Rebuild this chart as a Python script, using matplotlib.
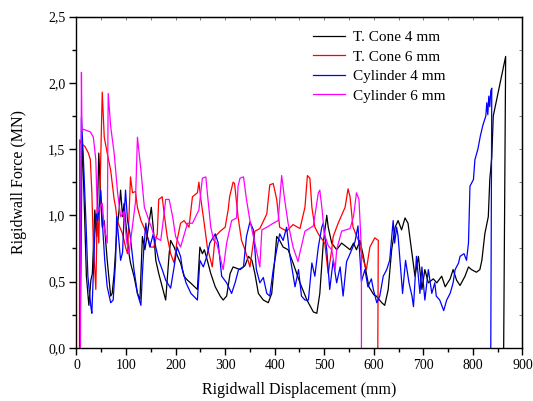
import matplotlib
matplotlib.use("Agg")
import matplotlib.pyplot as plt
from matplotlib.ticker import MultipleLocator, FuncFormatter

plt.rcParams['font.family'] = ['Liberation Serif', 'DejaVu Serif']

labels = ["T. Cone 4 mm", "T. Cone 6 mm", "Cylinder 4 mm", "Cylinder 6 mm"]
colors = ["#000000", "#ff0000", "#0000ff", "#ff00ff"]

cone4_x = [7, 10, 11, 13, 17, 20, 25, 29, 32, 37, 41, 45, 49, 52, 56, 59, 62, 66, 69, 72, 76, 81, 86, 89, 93, 96, 99,
           103, 106, 109, 116, 123, 128, 130, 133, 138, 143, 151, 155, 160, 166, 173, 180, 187, 190, 197, 204, 210,
           217, 224, 230, 244, 249, 254, 258, 264, 271, 280, 290, 296, 303, 310, 316, 330, 340, 347, 354, 360, 367,
           377, 387, 394, 400, 404, 410, 417, 427, 437, 451, 465, 478, 485, 491, 498, 505, 508, 515, 525, 535, 545,
           552, 559, 565, 572, 579, 585, 590, 600, 605, 616, 622, 629, 636, 643, 649, 656, 663, 669, 676, 683, 690,
           697, 703, 710, 720, 727, 737, 744, 754, 760, 767, 774, 784, 791, 797, 807, 814, 818, 824, 831, 834, 838,
           841, 866, 862]
cone4_y = [0.0, 1.0, 1.57, 1.42, 0.91, 0.54, 0.32, 0.51, 0.56, 1.04, 0.84, 1.47, 1.12, 0.91, 0.96, 0.80, 0.66, 0.51,
           0.39, 0.41, 0.56, 0.86, 1.04, 1.19, 0.99, 1.09, 0.96, 0.81, 0.71, 0.64, 0.54, 0.41, 0.36, 0.56, 0.84, 0.74,
           0.86, 1.06, 0.90, 0.66, 0.56, 0.46, 0.36, 0.71, 0.81, 0.76, 0.69, 0.64, 0.54, 0.51, 0.49, 0.44, 0.76, 0.71,
           0.74, 0.66, 0.56, 0.46, 0.39, 0.36, 0.39, 0.56, 0.61, 0.59, 0.62, 0.69, 0.66, 0.56, 0.41, 0.36, 0.34, 0.41,
           0.66, 0.84, 0.81, 0.76, 0.74, 0.64, 0.49, 0.36, 0.27, 0.26, 0.41, 0.79, 1.00, 0.91, 0.79, 0.74, 0.79, 0.76,
           0.74, 0.79, 0.74, 0.81, 0.69, 0.56, 0.46, 0.40, 0.39, 0.34, 0.32, 0.44, 0.74, 0.91, 0.96, 0.89, 0.98, 0.94,
           0.74, 0.54, 0.69, 0.44, 0.59, 0.49, 0.52, 0.49, 0.54, 0.46, 0.52, 0.59, 0.51, 0.47, 0.54, 0.61, 0.59, 0.57,
           0.59, 0.66, 0.86, 0.99, 1.27, 1.44, 1.75, 2.20, 0.0]

cone6_x = [6, 6.5, 10, 17, 24, 28, 31, 34, 39, 42, 45, 52, 56, 62, 69, 76, 79, 82, 93, 99, 103, 109, 113, 119, 123,
           130, 136, 143, 150, 156, 163, 166, 173, 176, 183, 190, 197, 203, 210, 217, 227, 234, 244, 247, 251, 257,
           264, 274, 280, 290, 300, 306, 309, 316, 319, 326, 333, 340, 350, 360, 370, 384, 390, 397, 404, 410, 424,
           437, 451, 461, 466, 471, 475, 481, 488, 501, 508, 515, 518, 528, 542, 548, 552, 558, 569, 579, 585, 592,
           602, 609, 608]
cone6_y = [0.0, 1.57, 1.54, 1.52, 1.47, 1.42, 1.17, 0.79, 0.44, 1.06, 0.79, 1.93, 1.59, 1.47, 1.34, 1.12, 1.06, 0.96,
           0.86, 0.76, 0.71, 1.29, 1.17, 1.18, 1.06, 0.96, 0.91, 0.84, 0.76, 0.76, 0.86, 1.12, 1.14, 1.04, 0.84, 0.71,
           0.64, 0.81, 0.94, 0.96, 0.91, 1.14, 1.17, 1.25, 1.12, 0.96, 0.76, 0.61, 0.84, 0.88, 0.91, 1.04, 1.14, 1.25,
           1.24, 0.99, 0.81, 0.74, 0.61, 0.88, 0.90, 1.01, 1.23, 1.24, 1.12, 0.91, 0.88, 0.93, 0.90, 1.06, 1.30, 1.28,
           1.06, 0.91, 0.86, 0.79, 0.56, 0.74, 0.84, 0.94, 1.06, 1.20, 1.14, 0.91, 0.81, 0.66, 0.59, 0.76, 0.83, 0.81,
           0.0]

cyl4_x = [7, 10, 14, 19, 23, 29, 31, 34, 37, 40, 43, 49, 52, 57, 62, 69, 74, 79, 81, 86, 89, 93, 96, 99, 103, 108,
          113, 116, 123, 130, 133, 136, 140, 143, 148, 155, 160, 166, 173, 180, 190, 197, 203, 210, 214, 221, 231, 244,
          249, 256, 263, 269, 280, 286, 293, 303, 313, 320, 327, 337, 343, 350, 357, 363, 370, 377, 384, 390, 397, 404,
          410, 417, 424, 430, 437, 441, 448, 454, 461, 468, 475, 481, 488, 495, 498, 505, 511, 518, 525, 532, 538, 545,
          552, 562, 568, 575, 582, 588, 595, 599, 606, 612, 619, 626, 632, 639, 642, 646, 649, 658, 664, 671, 677, 680,
          686, 693, 697, 703, 710, 717, 723, 726, 733, 741, 747, 754, 760, 764, 771, 774, 782, 787, 791, 794, 801, 804,
          810, 815, 820, 826, 828, 830, 832, 834, 836, 838, 836]
cyl4_y = [0.0, 1.74, 1.42, 0.96, 0.54, 0.31, 0.26, 0.56, 0.86, 1.01, 0.96, 1.19, 0.96, 0.66, 0.46, 0.34, 0.36, 0.66,
          0.99, 0.79, 0.66, 0.72, 0.99, 1.19, 0.96, 0.86, 0.69, 0.59, 0.41, 0.32, 0.56, 0.76, 0.94, 0.84, 0.76, 0.86,
          0.76, 0.66, 0.59, 0.51, 0.45, 0.61, 0.76, 0.69, 0.59, 0.49, 0.41, 0.36, 0.66, 0.61, 0.69, 0.79, 0.86, 0.79,
          0.54, 0.49, 0.41, 0.49, 0.59, 0.61, 0.84, 0.95, 0.89, 0.59, 0.49, 0.53, 0.41, 0.39, 0.59, 0.74, 0.86, 0.81,
          0.91, 0.71, 0.55, 0.46, 0.59, 0.39, 0.36, 0.36, 0.64, 0.54, 0.76, 0.91, 0.94, 0.74, 0.44, 0.66, 0.49, 0.61,
          0.39, 0.65, 0.71, 0.80, 0.92, 0.50, 0.59, 0.46, 0.52, 0.44, 0.34, 0.39, 0.54, 0.59, 0.66, 0.96, 0.79, 0.91,
          0.84, 0.41, 0.66, 0.49, 0.39, 0.31, 0.69, 0.41, 0.61, 0.36, 0.59, 0.41, 0.49, 0.39, 0.36, 0.28, 0.36, 0.41,
          0.49, 0.59, 0.64, 0.69, 0.71, 0.66, 0.79, 1.22, 1.27, 1.42, 1.50, 1.60, 1.68, 1.75, 1.85, 1.76, 1.90, 1.82,
          1.94, 1.96, 0.0]

cyl6_x = [7, 8, 10, 11, 14, 28, 34, 39, 42, 52, 56, 62, 64, 69, 76, 83, 89, 96, 101, 106, 119, 123, 130, 137, 151,
          157, 170, 176, 180, 187, 194, 200, 210, 224, 234, 247, 254, 261, 264, 271, 277, 283, 296, 303, 313, 323, 326,
          330, 337, 343, 350, 360, 370, 374, 384, 397, 407, 414, 420, 427, 437, 447, 451, 461, 478, 488, 491, 496, 500,
          508, 515, 522, 525, 535, 552, 559, 565, 570, 575, 575]
cyl6_y = [0.0, 0.0, 2.08, 1.64, 1.65, 1.63, 1.59, 1.42, 1.02, 1.09, 0.91, 0.79, 1.92, 1.67, 1.47, 1.17, 0.99, 1.03,
          0.81, 0.71, 1.10, 1.59, 1.34, 1.06, 0.91, 0.84, 0.81, 0.99, 1.12, 1.12, 0.99, 0.84, 0.76, 0.94, 0.94, 1.04,
          1.28, 1.29, 1.17, 0.91, 0.81, 0.79, 0.59, 0.79, 0.96, 0.98, 1.22, 1.28, 1.29, 1.12, 0.96, 0.79, 0.61, 0.89,
          0.91, 0.94, 0.96, 1.30, 1.12, 0.94, 0.76, 0.65, 0.72, 0.88, 0.92, 1.17, 1.19, 1.03, 0.86, 0.77, 0.74, 0.59,
          0.74, 0.88, 0.90, 0.99, 1.17, 1.12, 0.74, 0.0]

series = [(cone4_x, cone4_y), (cone6_x, cone6_y), (cyl4_x, cyl4_y), (cyl6_x, cyl6_y)]

fig = plt.figure(figsize=(5.33, 4.01), dpi=100)
ax = fig.add_axes([0.1435, 0.1329, 0.8368, 0.8255])

for (xs, ys), lab, col in zip(series, labels, colors):
    ax.plot(xs, ys, color=col, lw=0.9, label=lab)

ax.set_xlim(0, 900)
ax.set_ylim(0, 2.5)
ax.xaxis.set_major_locator(MultipleLocator(100))
ax.xaxis.set_minor_locator(MultipleLocator(50))
ax.yaxis.set_major_locator(MultipleLocator(0.5))
ax.yaxis.set_minor_locator(MultipleLocator(0.25))
ax.yaxis.set_major_formatter(FuncFormatter(lambda v, p: f"{v:.1f}".replace('.', ',')))
ax.tick_params(which='major', direction='out', length=5, width=1, labelsize=10, pad=3)
ax.tick_params(which='minor', direction='out', length=3, width=1)
for s in ax.spines.values():
    s.set_linewidth(1.0)

top = ax.secondary_xaxis('top')
top.xaxis.set_major_locator(MultipleLocator(100))
top.xaxis.set_minor_locator(MultipleLocator(50))
top.tick_params(which='both', direction='in', length=2, width=0.6, labeltop=False, colors='#666666')
right = ax.secondary_yaxis('right')
right.yaxis.set_major_locator(MultipleLocator(0.5))
right.yaxis.set_minor_locator(MultipleLocator(0.25))
right.tick_params(which='both', direction='in', length=2, width=0.6, labelright=False, colors='#666666')

ax.set_xlabel("Rigidwall Displacement (mm)", fontsize=11.5, labelpad=7)
ax.set_ylabel("Rigidwall Force (MN)", fontsize=11.5, labelpad=15)

ax.legend(loc='upper left', bbox_to_anchor=(0.53, 0.958), frameon=False, fontsize=11,
          borderpad=0, handlelength=2.1, handletextpad=0.5, labelspacing=0.38, borderaxespad=0)

fig.savefig("out.png", dpi=100)
